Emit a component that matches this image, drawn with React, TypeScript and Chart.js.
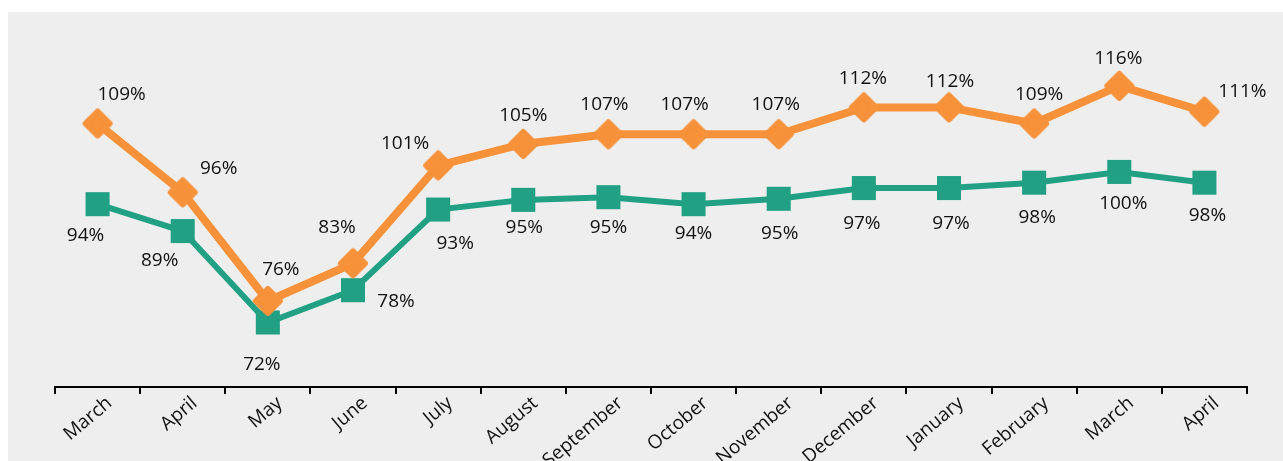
import React, { useEffect, useRef } from 'react';
import { Chart, registerables } from 'chart.js';

Chart.register(...registerables);

// ---- data ----
const categories = [
  'March', 'April', 'May', 'June', 'July', 'August', 'September',
  'October', 'November', 'December', 'January', 'February', 'March', 'April',
];
const seriesOrange = [109, 96.2, 76, 83, 101.2, 105.2, 107, 107, 107, 112, 112, 109, 116, 111.2];
const seriesGreen = [94, 89, 72, 78, 93, 94.8, 95.3, 94, 95, 97, 97, 98, 100, 98];

// label placement (pixel offsets from each point), kept apart from the data
const orangeLabelOffsets: [number, number][] = [
  [24, -30], [36, -25], [13, -33], [-16, -37], [-33, -23], [0, -30], [-4, -31],
  [-9, -31], [-3, -31], [-1, -30], [1, -27], [5, -30], [-1, -29], [38, -21],
];
const greenLabelOffsets: [number, number][] = [
  [-12, 30], [-23, 28], [-6, 41], [43, 10], [17, 33], [1, 26], [0, 29],
  [0, 28], [1, 33], [-2, 34], [2, 34], [3, 34], [4, 30], [3, 32],
];

const ORANGE = '#F7913A';
const GREEN = '#22A084';
const TEXT = '#111111';
const FONT = '"Open Sans", "Noto Sans", sans-serif';

function makeDiamond(color: string): HTMLCanvasElement {
  const c = document.createElement('canvas');
  c.width = 32;
  c.height = 32;
  const ctx = c.getContext('2d')!;
  const cx = 16, cy = 16, r = 12;
  ctx.beginPath();
  ctx.moveTo(cx, cy - r);
  ctx.lineTo(cx + r, cy);
  ctx.lineTo(cx, cy + r);
  ctx.lineTo(cx - r, cy);
  ctx.closePath();
  ctx.fillStyle = color;
  ctx.strokeStyle = color;
  ctx.lineWidth = 6;
  ctx.lineJoin = 'round';
  ctx.fill();
  ctx.stroke();
  return c;
}

const valueLabels = {
  id: 'valueLabels',
  afterDatasetsDraw(chart: any) {
    const ctx = chart.ctx as CanvasRenderingContext2D;
    const size = 19;
    ctx.save();
    ctx.font = `${size}px ${FONT}`;
    ctx.fillStyle = TEXT;
    ctx.textAlign = 'center';
    ctx.textBaseline = 'alphabetic';
    chart.data.datasets.forEach((ds: any, di: number) => {
      const meta = chart.getDatasetMeta(di);
      const offsets: [number, number][] = ds.labelOffsets || [];
      meta.data.forEach((pt: any, i: number) => {
        const v = ds.data[i] as number;
        const [dx, dy] = offsets[i] || [0, -25];
        ctx.fillText(`${Math.round(v)}%`, pt.x + dx, pt.y + dy + size * 0.357);
      });
    });
    ctx.restore();
  },
};

export default function App() {
  const ref = useRef<HTMLCanvasElement | null>(null);

  useEffect(() => {
    let chart: Chart | null = null;
    let cancelled = false;
    const build = () => {
      if (cancelled || !ref.current) return;
      const diamond = makeDiamond(ORANGE);
      chart = new Chart(ref.current, {
        type: 'line',
        data: {
          labels: categories,
          datasets: [
            {
              label: 'Series 1',
              data: seriesOrange,
              borderColor: ORANGE,
              backgroundColor: ORANGE,
              borderWidth: 8,
              tension: 0,
              pointStyle: diamond as any,
              pointRadius: 15,
              pointHoverRadius: 15,
              clip: false as any,
              labelOffsets: orangeLabelOffsets,
            } as any,
            {
              label: 'Series 2',
              data: seriesGreen,
              borderColor: GREEN,
              backgroundColor: GREEN,
              borderWidth: 6,
              tension: 0,
              pointStyle: 'rect',
              pointRadius: 17,
              pointHoverRadius: 17,
              pointBorderWidth: 0,
              clip: false as any,
              labelOffsets: greenLabelOffsets,
            } as any,
          ],
        },
        options: {
          animation: false,
          responsive: false,
          devicePixelRatio: 1,
          events: [],
          layout: { padding: { top: 25.5, left: 47, right: 36, bottom: 0 } },
          plugins: {
            legend: { display: false },
            tooltip: { enabled: false },
          },
          scales: {
            x: {
              offset: true,
              border: { display: true, color: '#000', width: 2 },
              grid: {
                display: true,
                drawOnChartArea: false,
                drawTicks: true,
                tickLength: 7,
                color: '#000',
                lineWidth: 2,
                offset: true,
              },
              ticks: {
                autoSkip: false,
                minRotation: 40,
                maxRotation: 40,
                labelOffset: 12,
                padding: -2,
                color: TEXT,
                font: { family: FONT, size: 19 },
              },
              afterFit: (s: any) => {
                s.height = 74;
              },
            },
            y: { display: false, min: 60, max: 125 },
          },
        },
        plugins: [valueLabels],
      });
    };
    const fontsReady = (document as any).fonts
      ? Promise.all([
          (document as any).fonts.load(`19px "Open Sans"`),
        ]).catch(() => null)
      : Promise.resolve();
    fontsReady.then(build);
    return () => {
      cancelled = true;
      if (chart) chart.destroy();
    };
  }, []);

  return (
    <div
      style={{
        position: 'fixed',
        left: 8,
        top: 12,
        right: 0,
        bottom: 0,
        background: '#eeeeee',
        overflow: 'hidden',
      }}
    >
      <canvas ref={ref} width={1275} height={449} style={{ display: 'block', width: 1275, height: 449 }} />
    </div>
  );
}
